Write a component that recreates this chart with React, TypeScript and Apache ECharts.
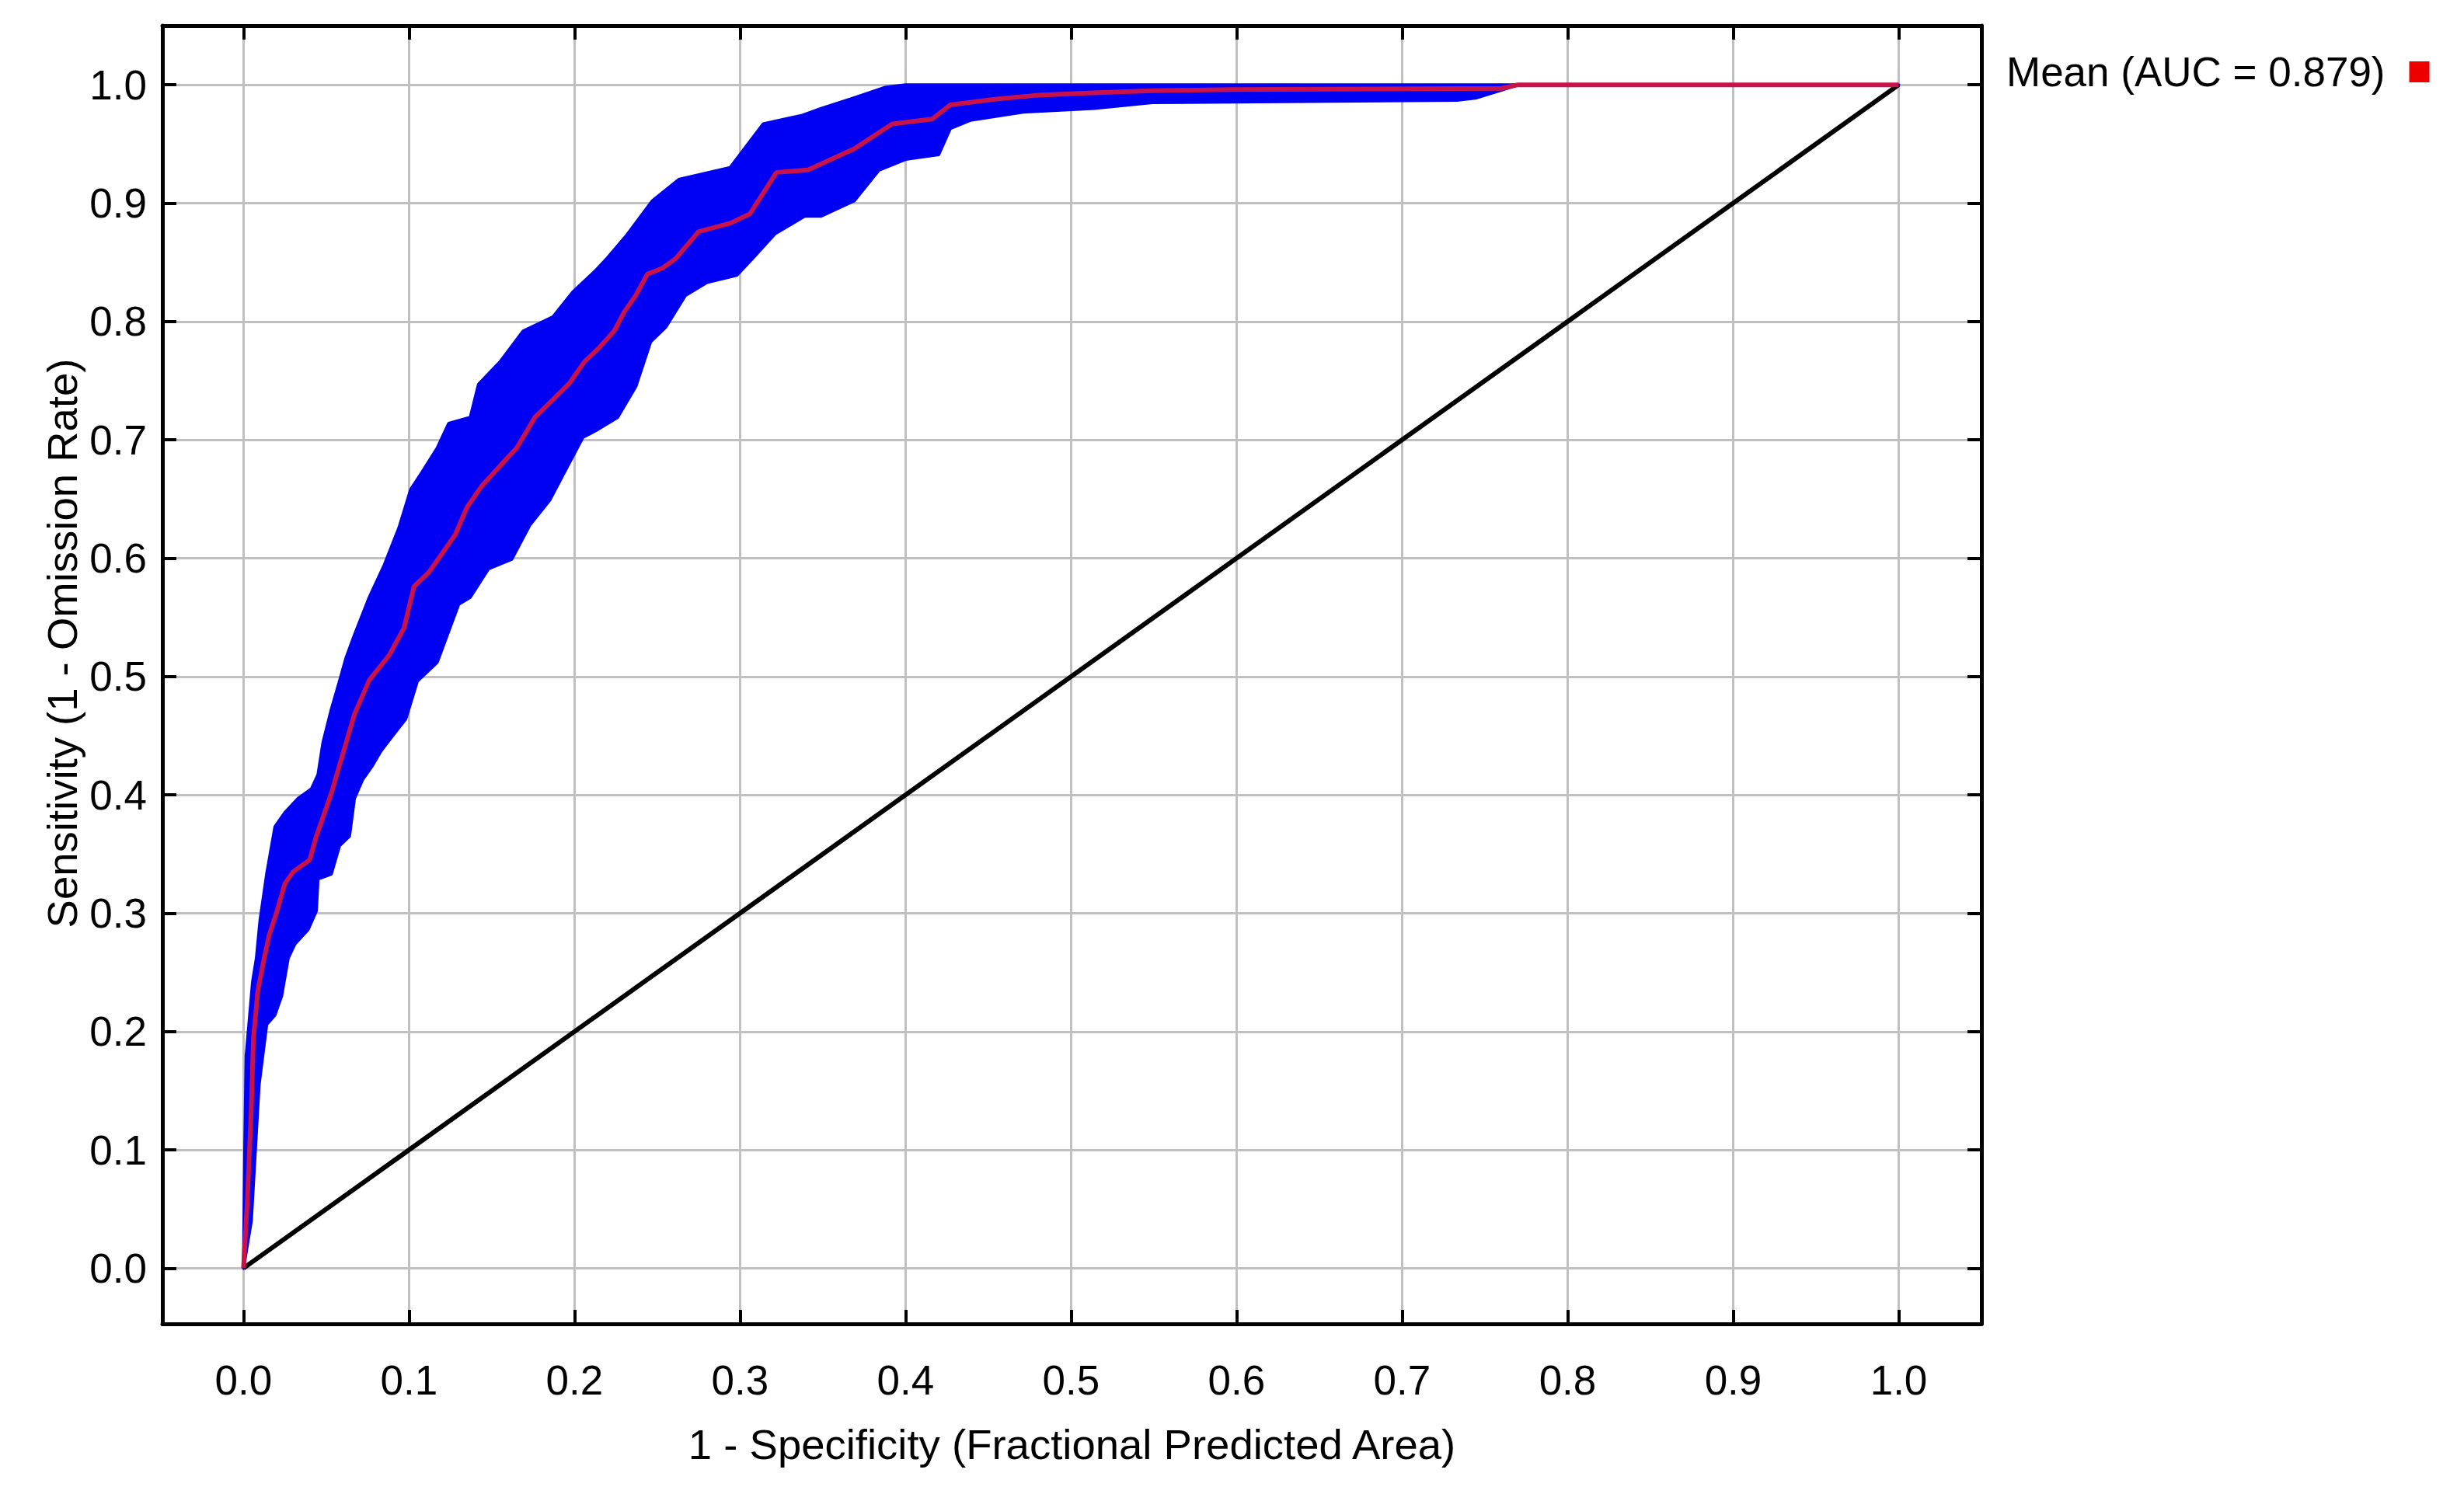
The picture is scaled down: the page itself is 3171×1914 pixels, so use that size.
import React, { useEffect, useRef } from "react";
import * as echarts from "echarts";

// ---------- data ----------
const tickValues = [0, 0.1, 0.2, 0.3, 0.4, 0.5, 0.6, 0.7, 0.8, 0.9, 1.0];
const tickLabels = ["0.0", "0.1", "0.2", "0.3", "0.4", "0.5", "0.6", "0.7", "0.8", "0.9", "1.0"];

const seriesName = "Mean (AUC = 0.879)";
const xAxisTitle = "1 - Specificity (Fractional Predicted Area)";
const yAxisTitle = "Sensitivity (1 - Omission Rate)";

// mean ROC curve
const meanX = [0, 0.0023, 0.0047, 0.006, 0.0086, 0.0125, 0.0156, 0.0203, 0.025, 0.03, 0.034, 0.04, 0.044, 0.048, 0.053, 0.058, 0.062, 0.067, 0.076, 0.088, 0.097, 0.103, 0.112, 0.119, 0.128, 0.135, 0.144, 0.155, 0.165, 0.171, 0.176, 0.187, 0.197, 0.206, 0.215, 0.224, 0.23, 0.237, 0.244, 0.253, 0.261, 0.275, 0.294, 0.306, 0.322, 0.341, 0.369, 0.392, 0.416, 0.427, 0.455, 0.478, 0.51, 0.549, 0.596, 0.76, 0.77, 1.0];
const meanY = [0, 0.056, 0.135, 0.194, 0.234, 0.262, 0.282, 0.302, 0.325, 0.335, 0.339, 0.345, 0.365, 0.381, 0.401, 0.425, 0.444, 0.468, 0.497, 0.518, 0.541, 0.576, 0.588, 0.602, 0.62, 0.643, 0.661, 0.678, 0.693, 0.707, 0.719, 0.734, 0.748, 0.766, 0.778, 0.792, 0.808, 0.822, 0.84, 0.845, 0.853, 0.876, 0.883, 0.891, 0.926, 0.928, 0.946, 0.967, 0.971, 0.983, 0.988, 0.991, 0.993, 0.995, 0.996, 0.997, 1.0, 1.0];

// upper (left / top) edge of the +/- one standard deviation band
const upperX = [0, 0.0008, 0.0016, 0.0055, 0.0078, 0.01, 0.014, 0.019, 0.025, 0.033, 0.041, 0.045, 0.048, 0.053, 0.058, 0.062, 0.067, 0.076, 0.085, 0.094, 0.101, 0.108, 0.117, 0.124, 0.137, 0.142, 0.155, 0.169, 0.187, 0.199, 0.212, 0.22, 0.231, 0.247, 0.263, 0.294, 0.314, 0.337, 0.349, 0.369, 0.388, 0.4, 1.0];
const upperY = [0, 0.103, 0.179, 0.242, 0.262, 0.294, 0.333, 0.373, 0.385, 0.397, 0.405, 0.417, 0.444, 0.472, 0.496, 0.516, 0.535, 0.567, 0.594, 0.626, 0.658, 0.673, 0.693, 0.714, 0.719, 0.747, 0.766, 0.792, 0.804, 0.825, 0.842, 0.854, 0.872, 0.902, 0.92, 0.93, 0.967, 0.974, 0.98, 0.989, 0.998, 1.0, 1.0];

// lower (right / bottom) edge of the band
const lowerX = [0, 0.0047, 0.0094, 0.014, 0.019, 0.023, 0.027, 0.031, 0.039, 0.044, 0.045, 0.053, 0.058, 0.064, 0.067, 0.072, 0.078, 0.083, 0.089, 0.098, 0.105, 0.117, 0.13, 0.137, 0.148, 0.162, 0.173, 0.185, 0.194, 0.205, 0.213, 0.226, 0.237, 0.246, 0.255, 0.267, 0.28, 0.298, 0.308, 0.321, 0.339, 0.349, 0.369, 0.384, 0.4, 0.42, 0.427, 0.439, 0.471, 0.514, 0.549, 0.733, 0.745, 0.761, 0.77, 1.0];
const lowerY = [0, 0.04, 0.155, 0.206, 0.214, 0.23, 0.262, 0.274, 0.286, 0.302, 0.329, 0.333, 0.357, 0.365, 0.397, 0.413, 0.425, 0.437, 0.448, 0.464, 0.496, 0.512, 0.561, 0.567, 0.591, 0.599, 0.628, 0.649, 0.673, 0.702, 0.708, 0.719, 0.745, 0.783, 0.795, 0.822, 0.833, 0.839, 0.854, 0.874, 0.889, 0.889, 0.902, 0.928, 0.937, 0.941, 0.963, 0.97, 0.977, 0.98, 0.985, 0.987, 0.989, 0.996, 1.0, 1.0];

// random-prediction reference line
const diagX = [0, 1];
const diagY = [0, 1];

// ---------- chart ----------
const FONT = "'Liberation Sans', Arial, sans-serif";
const fmt = (v: number) => {
  const i = tickValues.findIndex((t) => Math.abs(t - v) < 1e-9);
  return i >= 0 ? tickLabels[i] : "";
};

const axisLineStyle = { show: true, onZero: false, lineStyle: { color: "#000", width: 5 } };
const tickStyle = {
  show: true,
  inside: true,
  length: 18,
  customValues: tickValues,
  lineStyle: { color: "#000", width: 4 },
};

export default function App() {
  const ref = useRef<HTMLDivElement>(null);

  useEffect(() => {
    if (!ref.current) return;
    const chart = echarts.init(ref.current, undefined, { renderer: "svg" });

    const option: any = {
      animation: false,
      backgroundColor: "#ffffff",
      textStyle: { fontFamily: FONT },
      grid: { left: 209, right: 621, top: 33, bottom: 210, show: false },
      legend: {
        data: [{ name: seriesName, icon: "rect", itemStyle: { color: "#ee0000" } }],
        align: "right",
        left: 2582,
        top: 66,
        padding: 0,
        itemWidth: 26,
        itemHeight: 27,
        selectedMode: false,
        textStyle: { fontSize: 53, color: "#000", fontFamily: FONT, padding: [0, 26, 0, 0] },
      },
      xAxis: [
        {
          type: "value",
          min: -0.049,
          max: 1.05,
          position: "bottom",
          axisLine: axisLineStyle,
          axisTick: tickStyle,
          axisLabel: {
            customValues: tickValues,
            formatter: fmt,
            fontSize: 53,
            color: "#000",
            fontFamily: FONT,
            margin: 46,
          },
          splitLine: { show: true, lineStyle: { color: "#c0c0c0", width: 3 } },
          name: xAxisTitle,
          nameLocation: "middle",
          nameGap: 128,
          nameTextStyle: { fontSize: 54.5, color: "#000", fontFamily: FONT },
        },
        {
          type: "value",
          min: -0.049,
          max: 1.05,
          position: "top",
          axisLine: axisLineStyle,
          axisTick: tickStyle,
          axisLabel: { show: false },
          splitLine: { show: false },
        },
      ],
      yAxis: [
        {
          type: "value",
          min: -0.047,
          max: 1.05,
          position: "left",
          axisLine: axisLineStyle,
          axisTick: tickStyle,
          axisLabel: {
            customValues: tickValues,
            formatter: fmt,
            fontSize: 53,
            color: "#000",
            fontFamily: FONT,
            margin: 20,
            padding: [20, 0, 0, 0],
          },
          splitLine: { show: true, lineStyle: { color: "#c0c0c0", width: 3 } },
        },
        {
          type: "value",
          min: -0.047,
          max: 1.05,
          position: "right",
          axisLine: axisLineStyle,
          axisTick: tickStyle,
          axisLabel: { show: false },
          splitLine: { show: false },
        },
      ],
      graphic: [
        {
          type: "text",
          x: 80,
          y: 828,
          rotation: Math.PI / 2,
          style: {
            text: yAxisTitle,
            font: `54.5px ${FONT}`,
            fill: "#000",
            textAlign: "center",
            textVerticalAlign: "middle",
          },
        },
      ],
      series: [
        {
          type: "custom",
          name: "band",
          xAxisIndex: 0,
          yAxisIndex: 0,
          silent: true,
          z: 2,
          data: [[0, 0]],
          renderItem: (_params: any, api: any) => {
            const pts: number[][] = [];
            for (let i = 0; i < upperX.length; i++) pts.push(api.coord([upperX[i], upperY[i]]));
            for (let i = lowerX.length - 1; i >= 0; i--) pts.push(api.coord([lowerX[i], lowerY[i]]));
            return {
              type: "polygon",
              shape: { points: pts },
              style: { fill: "#0000f4", stroke: "#0000f4", lineWidth: 4, lineJoin: "round" },
            };
          },
        },
        {
          type: "line",
          name: "diagonal",
          xAxisIndex: 0,
          yAxisIndex: 0,
          data: diagX.map((x, i) => [x, diagY[i]]),
          symbol: "none",
          silent: true,
          z: 3,
          lineStyle: { color: "#000", width: 6 },
        },
        {
          type: "line",
          name: seriesName,
          xAxisIndex: 0,
          yAxisIndex: 0,
          data: meanX.map((x, i) => [x, meanY[i]]),
          symbol: "none",
          silent: true,
          z: 4,
          itemStyle: { color: "#ee0000" },
          lineStyle: { color: "#c8124a", width: 6 },
        },
      ],
    };

    chart.setOption(option);
    return () => chart.dispose();
  }, []);

  return (
    <div
      ref={ref}
      style={{ position: "fixed", left: 0, top: 0, width: 3171, height: 1914, background: "#fff" }}
    />
  );
}
